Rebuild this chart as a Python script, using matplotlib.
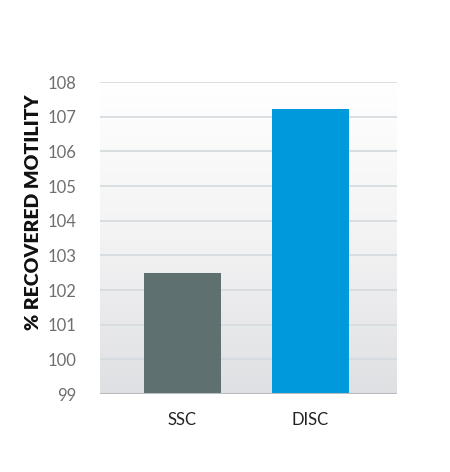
import numpy as np
import matplotlib.pyplot as plt

categories = ["SSC", "DISC"]
values = [102.48, 107.22]
colors = ["#5f7071", "#0099dc"]
yticks = [99, 100, 101, 102, 103, 104, 105, 106, 107, 108]

fig = plt.figure(figsize=(4.5, 4.72), dpi=100)
ax = fig.add_axes([0.222, 0.165, 0.66, 0.661])

# soft gray-to-white background gradient
grad = np.linspace(0, 1, 256).reshape(-1, 1)
ax.imshow(grad, extent=[0, 1, 0, 1], transform=ax.transAxes, origin="lower",
          cmap=plt.matplotlib.colors.LinearSegmentedColormap.from_list(
              "bg", ["#dfe0e3", "#f3f3f4", "#ffffff"]),
          aspect="auto", zorder=0)

x = np.arange(len(categories))
ax.bar(x, [v - 99 for v in values], bottom=99, width=0.6, color=colors, zorder=3)

ax.set_xlim(-0.645, 1.676)
ax.set_ylim(99, 108)
ax.set_yticks(yticks)
ax.set_yticklabels([str(t) for t in yticks], fontfamily="Lato", fontweight="normal",
                   fontsize=12, color="#6e6e6e")
ax.set_xticks(x)
ax.set_xticklabels(categories, fontfamily="Lato", fontsize=12, color="#222222")
ax.tick_params(axis="y", length=0, pad=17)
ax.tick_params(axis="x", length=0, pad=13)

for t in yticks[1:]:
    ax.axhline(t, color="#d3dadd", lw=1.2, zorder=1)
ax.axhline(99, color="#b8bcbf", lw=1.5, zorder=4)

for s in ax.spines.values():
    s.set_visible(False)

fig.text(0.075, 0.55, "% RECOVERED MOTILITY", rotation=90, ha="center", va="center",
         fontfamily="Lato", fontweight="heavy", fontsize=14, color="#111111")

fig.savefig("out.png", dpi=100)
